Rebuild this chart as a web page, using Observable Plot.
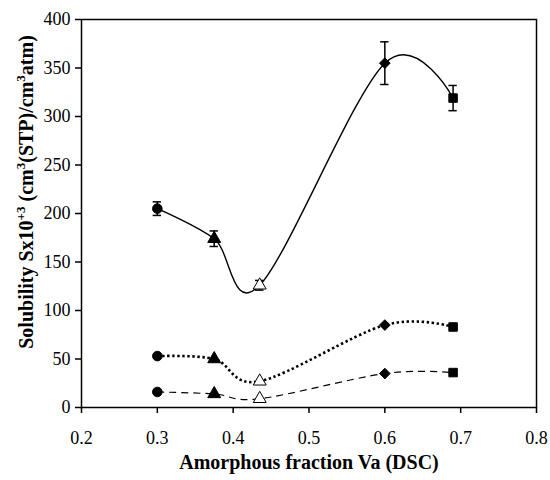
<!DOCTYPE html>
<html>
<head>
<meta charset="utf-8">
<script src="https://cdn.jsdelivr.net/npm/d3@7"></script>
<script src="https://cdn.jsdelivr.net/npm/@observablehq/plot@0.6"></script>
<style>
  html, body { margin: 0; padding: 0; background: white; }
</style>
</head>
<body>
<div id="chart"></div>
<script>
const xVals = [0.3, 0.375, 0.435, 0.6, 0.69];
const high = [205, 174, 126, 355, 319];
const highErr = [7, 8, 5, 22, 13];
const mid = [53, 50, 27, 85, 83];
const low = [16, 14, 9, 35, 36];
const symbols = ["circle", "triangle", "triangle", "diamond2", "square"];
const fills = ["black", "black", "white", "black", "black"];
const xTicks = [0.2, 0.3, 0.4, 0.5, 0.6, 0.7, 0.8];
const yTicks = [0, 50, 100, 150, 200, 250, 300, 350, 400];
const xTitle = "Amorphous fraction Va (DSC)";

const data = xVals.map((x, i) => ({
  x, high: high[i], err: highErr[i], mid: mid[i], low: low[i],
  symbol: symbols[i], fill: fills[i]
}));

const dotOpts = (key) => ({
  x: "x", y: key, symbol: "symbol", fill: "fill", stroke: "black",
  strokeWidth: 1, r: 4.8
});

const chart = Plot.plot({
  width: 550,
  height: 480,
  marginLeft: 81,
  marginRight: 14,
  marginTop: 19,
  marginBottom: 73,
  x: { domain: [0.2, 0.8] },
  y: { domain: [0, 400] },
  symbol: { type: "identity" },
  color: { type: "identity" },
  style: { fontFamily: "'Liberation Serif', 'Times New Roman', serif", fontSize: "18px", color: "black", background: "white" },
  marks: [
    Plot.frame({ stroke: "black", strokeWidth: 1.5 }),
    Plot.axisX({ ticks: xTicks, tickFormat: d3.format(".1f"), tickSize: 6, tickPadding: 18, label: null, strokeWidth: 1.5, fontSize: 18 }),
    Plot.axisY({ ticks: yTicks, tickSize: 6, tickPadding: 5, label: null, strokeWidth: 1.5, fontSize: 18 }),
    Plot.line(data, { x: "x", y: "high", curve: "cardinal", stroke: "black", strokeWidth: 1.4 }),
    Plot.line(data, { x: "x", y: "mid", curve: "cardinal", stroke: "black", strokeWidth: 2.6, strokeDasharray: "2.4,2.6", strokeLinecap: "butt" }),
    Plot.line(data, { x: "x", y: "low", curve: "cardinal", stroke: "black", strokeWidth: 1.2, strokeDasharray: "7,5", strokeLinecap: "butt" }),
    Plot.ruleX(data, { x: "x", y1: d => d.high - d.err, y2: d => d.high + d.err, stroke: "black", strokeWidth: 1.5 }),
    Plot.ruleY(data, { y: d => d.high - d.err, x1: d => d.x - 0.0055, x2: d => d.x + 0.0055, stroke: "black", strokeWidth: 1.5 }),
    Plot.ruleY(data, { y: d => d.high + d.err, x1: d => d.x - 0.0055, x2: d => d.x + 0.0055, stroke: "black", strokeWidth: 1.5 }),
    Plot.dot(data, dotOpts("high")),
    Plot.dot(data, dotOpts("mid")),
    Plot.dot(data, dotOpts("low")),
    Plot.text([xTitle], { frameAnchor: "bottom", dy: 61, fontWeight: "bold", fontSize: 20, fill: "black" })
  ]
});

const svg = d3.select(chart);
const t = svg.append("text")
  .attr("transform", "translate(33,192) rotate(-90)")
  .attr("text-anchor", "middle")
  .attr("font-family", "'Liberation Serif', 'Times New Roman', serif")
  .attr("font-weight", "bold")
  .attr("font-size", 20)
  .attr("fill", "black");
t.append("tspan").text("Solubility Sx10");
t.append("tspan").attr("dy", -8).attr("font-size", 13).text("+3");
t.append("tspan").attr("dy", 8).text(" (cm");
t.append("tspan").attr("dy", -8).attr("font-size", 13).text("3");
t.append("tspan").attr("dy", 8).text("(STP)/cm");
t.append("tspan").attr("dy", -8).attr("font-size", 13).text("3");
t.append("tspan").attr("dy", 8).text("atm)");

document.getElementById("chart").appendChild(chart);
</script>
</body>
</html>
